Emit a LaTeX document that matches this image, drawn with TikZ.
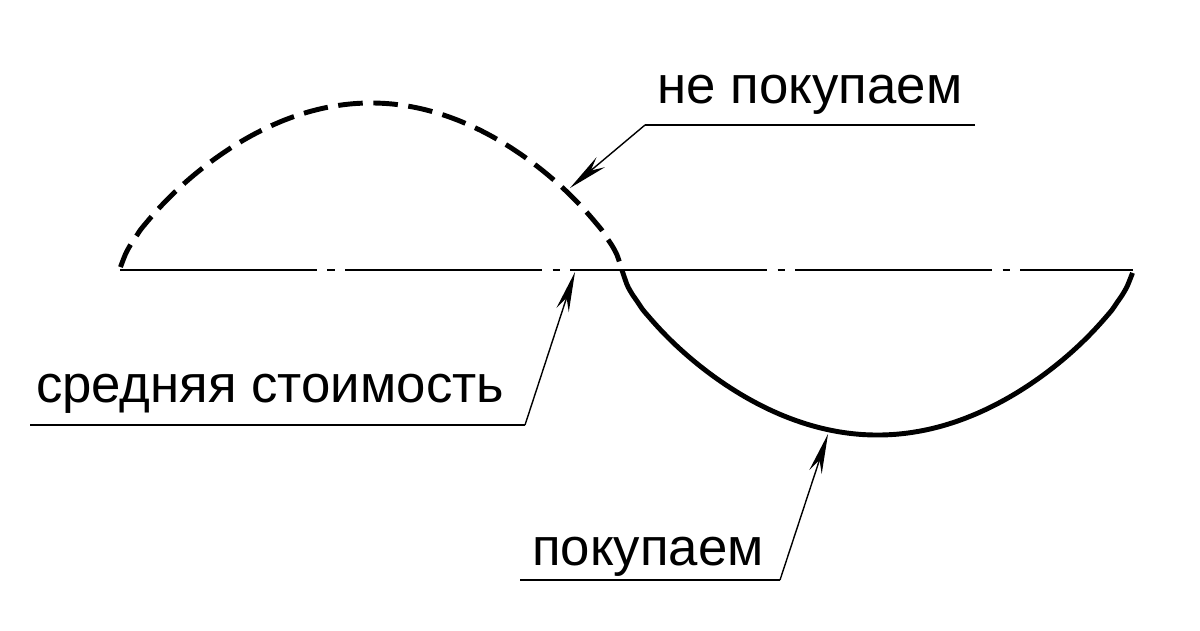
\documentclass[tikz,border=0pt]{standalone}
\usepackage{fontspec}
\setmainfont{Liberation Sans}
\usetikzlibrary{arrows.meta}

\begin{document}
\begin{tikzpicture}[x=0.01cm,y=-0.01cm,
	lead/.style={thin, -{Stealth[length=4mm,width=1.3mm]}},
	lbl/.style={font=\fontsize{15}{17}\selectfont, anchor=base}]
	\useasboundingbox (0,0) rectangle (1200,630);
	% axis
	\coordinate (L) at (120,270);
	\coordinate (R) at (1133,270);
	\draw[thin, dash pattern=on 56pt off 3pt on 2pt off 3pt] (L) -- (R);
	% curve
	\draw[line width=1.4pt, dash pattern=on 7pt off 3pt] plot[domain=120.5:622, samples=100, smooth] (\x, {270-167*(sin((\x-120)/502*180))^0.7});
	\draw[line width=1.4pt] plot[domain=622:1132.5, samples=100, smooth] (\x, {270+165*(sin((\x-622)/511*180))^0.7});
	% labels
	\node[lbl] (np) at (810,103) {не покупаем};
	\coordinate (np1) at (645,125);
	\coordinate (np2) at (975,125);
	\coordinate (npA) at (570,188);
	\draw[thin] (np2) -- (np1);
	\draw[lead] (np1) -- (npA);
	\node[lbl] (sr) at (270,402) {средняя стоимость};
	\coordinate (sr1) at (30,425);
	\coordinate (sr2) at (525,425);
	\coordinate (srA) at (575,272);
	\draw[thin] (sr1) -- (sr2);
	\draw[lead] (sr2) -- (srA);
	\node[lbl] (pk) at (648,565) {покупаем};
	\coordinate (pk1) at (520,580);
	\coordinate (pk2) at (780,580);
	\coordinate (pkA) at (828,434);
	\draw[thin] (pk1) -- (pk2);
	\draw[lead] (pk2) -- (pkA);
\end{tikzpicture}
\end{document}
